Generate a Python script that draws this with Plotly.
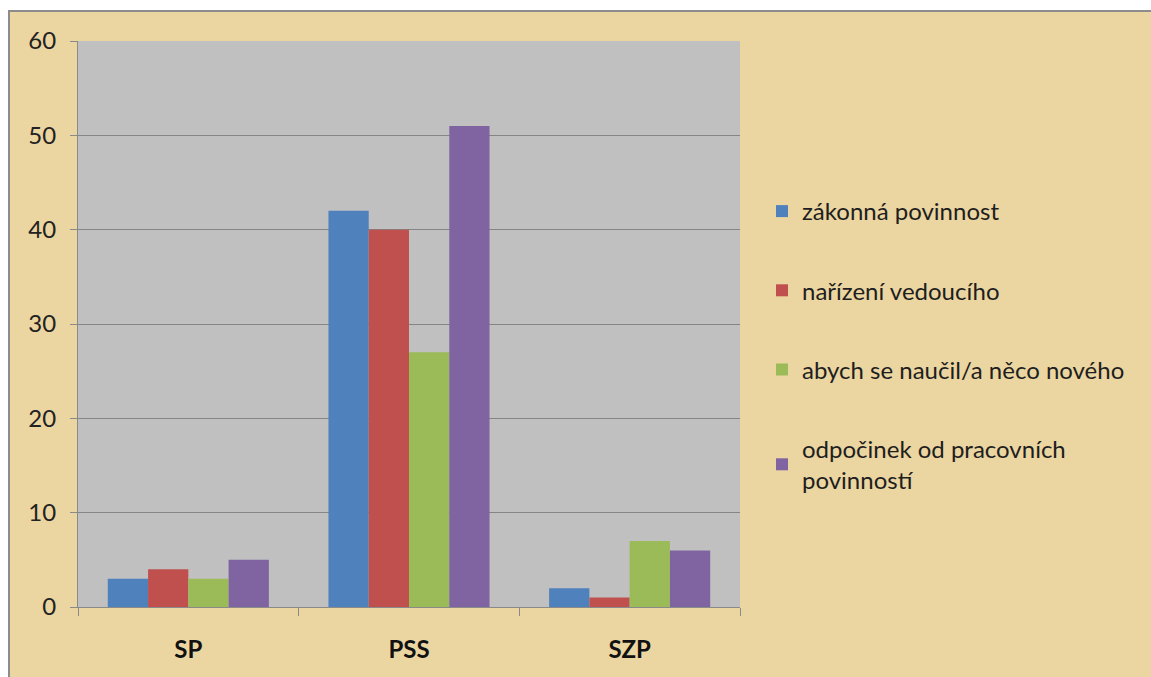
import plotly.graph_objects as go

categories = ["SP", "PSS", "SZP"]
series_names = [
    "zákonná povinnost",
    "nařízení vedoucího",
    "abych se naučil/a něco nového",
    "odpočinek od pracovních<br>povinností",
]
zakonna = [3, 42, 2]
narizeni = [4, 40, 1]
naucit = [3, 27, 7]
odpocinek = [5, 51, 6]
y_ticks = [0, 10, 20, 30, 40, 50, 60]

colors = ["#4F81BD", "#C0504D", "#9BBB59", "#8064A2"]
values = [zakonna, narizeni, naucit, odpocinek]

W, H = 1151, 677
L, R, T, B = 78, 740, 41, 607

fig = go.Figure()
for i, (name, vals) in enumerate(zip(series_names, values)):
    fig.add_trace(go.Bar(
        x=categories, y=vals, name=name,
        marker=dict(color=colors[i], line=dict(width=0)),
        legendgroup=f"g{i}",
    ))

def px_x(p):
    return (p - L) / (R - L)

def px_y(p):
    return (B - p) / (B - T)

font = "Lato, 'Open Sans', sans-serif"
border = "#8C8C8C"

fig.update_layout(
    width=W, height=H,
    margin=dict(l=L, r=W - R, t=T, b=H - B, autoexpand=False),
    paper_bgcolor="#EBD5A0",
    plot_bgcolor="#C0C0C0",
    barmode="group",
    bargap=0.27,
    bargroupgap=0,
    font=dict(family=font, color="#222222", size=22),
    showlegend=True,
    legend=dict(
        x=px_x(762), xanchor="left", xref="paper",
        y=px_y(189), yanchor="top",
        bgcolor="rgba(0,0,0,0)",
        font=dict(size=24, family=font, color="#1E1E1E"),
        traceorder="grouped",
        tracegroupgap=45,
        itemclick=False,
    ),
    shapes=[
        # white page margin above and left of the chart frame
        dict(type="rect", xref="paper", yref="paper",
             x0=px_x(-5), x1=px_x(W + 5), y0=px_y(10), y1=px_y(-5),
             fillcolor="white", line=dict(width=0), layer="below"),
        dict(type="rect", xref="paper", yref="paper",
             x0=px_x(-5), x1=px_x(8), y0=px_y(H + 5), y1=px_y(-5),
             fillcolor="white", line=dict(width=0), layer="below"),
        # frame edges
        dict(type="line", xref="paper", yref="paper",
             x0=px_x(8), x1=px_x(W + 5), y0=px_y(11), y1=px_y(11),
             line=dict(color=border, width=2), layer="below"),
        dict(type="line", xref="paper", yref="paper",
             x0=px_x(9), x1=px_x(9), y0=px_y(10), y1=px_y(H + 5),
             line=dict(color=border, width=2), layer="below"),
    ],
)

fig.update_xaxes(
    showline=True, linecolor="#8A8A8A", linewidth=1,
    ticks="outside", tickson="boundaries", ticklen=8, tickcolor="#8A8A8A",
    tickfont=dict(size=24, family=font, color="#111111", weight="bold"),
    ticklabelstandoff=21,
    showgrid=False,
)
fig.update_yaxes(
    range=[0, 60], tickvals=y_ticks,
    showline=True, linecolor="#8A8A8A", linewidth=1,
    ticks="outside", ticklen=7, tickcolor="#8A8A8A",
    tickfont=dict(size=24, family=font, color="#222222"),
    ticklabelstandoff=9,
    showgrid=True, gridcolor="#858585", gridwidth=1,
    zeroline=False,
)

fig.write_html("out.html")
